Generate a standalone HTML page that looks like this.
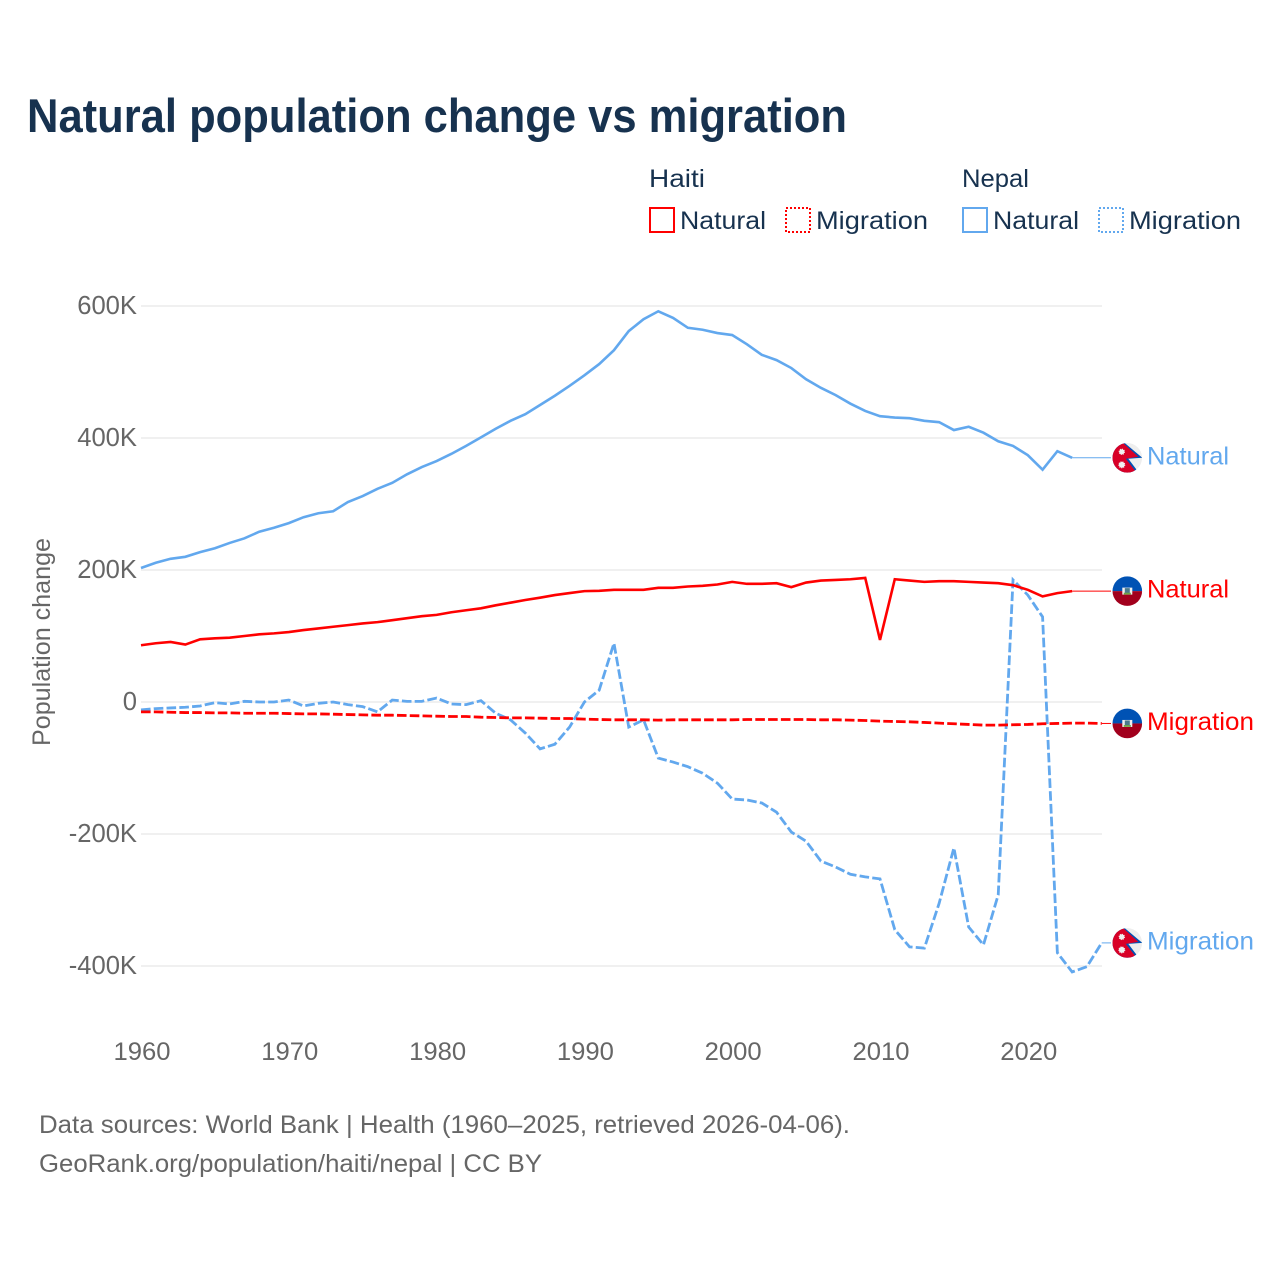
<!DOCTYPE html>
<html lang="en">
<head>
<meta charset="utf-8">
<title>Natural population change vs migration</title>
<style>
html,body{margin:0;padding:0;background:#fff;}
svg{display:block;font-family:"Liberation Sans",sans-serif;}
</style>
</head>
<body>
<svg id="chart" xmlns="http://www.w3.org/2000/svg" width="1280" height="1280" viewBox="0 0 1280 1280">
  <defs>
    <clipPath id="flag-clip"><circle cx="0" cy="0" r="14.8"/></clipPath>
    <g id="flag-haiti" clip-path="url(#flag-clip)">
      <rect x="-15" y="-15" width="30" height="15" fill="#0052b4"/>
      <rect x="-15" y="0" width="30" height="15" fill="#a2001d"/>
      <rect x="-5" y="-3.5" width="10" height="7" fill="#f0f0f0"/>
      <rect x="-2.5" y="-3" width="5" height="5" fill="#4a7a8c"/>
      <rect x="-3.5" y="1.6" width="7" height="1.8" fill="#6da544"/>
    </g>
    <g id="flag-nepal" clip-path="url(#flag-clip)">
      <circle cx="0" cy="0" r="15" fill="#eeeeee"/>
      <polygon points="-15,-16 -4,-16 15,0 1,1 12,15.5 -15,15.5" fill="#0052b4"/>
      <polygon points="-15,-16 -5.500,-16 11,-1 -1.500,1 9,14.500 -15,15.500" fill="#d80027"/>
      <circle cx="-5.5" cy="-6" r="2.600" fill="#f0f0f0" stroke="#f0f0f0" stroke-width="1.200" stroke-dasharray="1 1"/>
      <circle cx="-5.5" cy="7" r="2.900" fill="#f0f0f0" stroke="#f0f0f0" stroke-width="1.200" stroke-dasharray="1 1"/>
    </g>
  </defs>

  <rect x="0" y="0" width="1280" height="1280" fill="#ffffff"/>

  <text x="27" y="132" font-size="47" font-weight="700" fill="#17324f" textLength="820" lengthAdjust="spacingAndGlyphs">Natural population change vs migration</text>

  <g font-size="25" fill="#17324f">
    <text x="649" y="187" textLength="56" lengthAdjust="spacingAndGlyphs">Haiti</text>
    <text x="962" y="187" textLength="67" lengthAdjust="spacingAndGlyphs">Nepal</text>

    <g>
      <rect x="650" y="208" width="24" height="24" fill="none" stroke="#ff0000" stroke-width="2"/>
      <text x="680" y="229" textLength="86" lengthAdjust="spacingAndGlyphs">Natural</text>
    </g>
    <g>
      <rect x="786" y="208" width="24" height="24" fill="none" stroke="#ff0000" stroke-width="2" stroke-dasharray="2 2"/>
      <text x="816" y="229" textLength="112" lengthAdjust="spacingAndGlyphs">Migration</text>
    </g>
    <g>
      <rect x="963" y="208" width="24" height="24" fill="none" stroke="#62a8ee" stroke-width="2"/>
      <text x="993" y="229" textLength="86" lengthAdjust="spacingAndGlyphs">Natural</text>
    </g>
    <g>
      <rect x="1099" y="208" width="24" height="24" fill="none" stroke="#62a8ee" stroke-width="2" stroke-dasharray="2 2"/>
      <text x="1129" y="229" textLength="112" lengthAdjust="spacingAndGlyphs">Migration</text>
    </g>
  </g>

  <g id="grid"></g>
  <g id="y-ticks"></g>
  <g id="x-ticks"></g>
  <text transform="translate(50,642) rotate(-90)" text-anchor="middle" font-size="25" fill="#666666" textLength="208" lengthAdjust="spacingAndGlyphs">Population change</text>

  <g id="series"></g>
  <g id="end-labels"></g>

  <text x="39" y="1133" font-size="25" fill="#666666" textLength="811" lengthAdjust="spacingAndGlyphs">Data sources: World Bank | Health (1960–2025, retrieved 2026-04-06).</text>
  <text x="39" y="1172" font-size="25" fill="#666666" textLength="503" lengthAdjust="spacingAndGlyphs">GeoRank.org/population/haiti/nepal | CC BY</text>
</svg>

<script>
// Values are in thousands; the first entry of each series is for startYear.
const startYear = 1960;
const yTickValues = [600, 400, 200, 0, -200, -400];
const yTickLabels = ['600K', '400K', '200K', '0', '-200K', '-400K'];
const xTickYears = [1960, 1970, 1980, 1990, 2000, 2010, 2020];

const haitiNatural = [86,89,91,87,95,96.5,97.5,100,102.5,104,
  106,109,111.5,114,116.5,119,121,124,127,130,
  132,136,139,142,146.5,150.5,154.5,158,162,165,
  168,168.5,170,170,170,173,173,175,176,178,
  182,179,179,180,174,181,184,185,186,188,
  94,186,184,182,183,183,182,181,180,177,
  170,160,165,168];

const haitiMigration = [-15,-15,-15.5,-16,-16,-16.5,-16.5,-17,-17,-17,
  -17.5,-18,-18,-18.5,-19,-19.5,-20,-20,-20.5,-21,
  -21.5,-22,-22,-23,-23.5,-24,-24,-24.5,-25,-25,
  -26,-26.5,-27,-27,-27,-27.5,-27,-27,-27,-27,
  -27,-26.5,-26.5,-26.5,-26.5,-26.5,-27,-27,-27.5,-28,
  -29,-29.5,-30,-31,-32,-33,-34,-35,-35,-34.5,
  -34,-33,-32.5,-32,-32,-32.5];

const nepalNatural = [203,211,217,220,227,233,241,248,258,264,
  271,280,286,289,303,312,323,332,345,356,
  365,376,388,401,414,426,436,450,464,479,
  495,512,533,562,580,592,582,567,564,559,
  556,542,526,518,506,489,476,465,452,441,
  433,431,430,426,424,412,417,408,395,388,
  374,352,380,370];

const nepalMigration = [-12,-10,-9,-8,-6,-1,-3,1,0,0,
  3,-6,-2,0,-4,-7,-15,3,1,1,
  6,-3,-4,2,-17,-27,-47,-71,-64,-38,
  0,18,89,-38,-27,-85,-91,-98,-108,-123,
  -147,-148.5,-153,-167,-197,-211,-241,-250,-261,-265,
  -268,-345,-371,-373,-305,-221,-341,-368,-292,185,
  162,129,-380,-409,-401,-365];

const SVGNS = 'http://www.w3.org/2000/svg';
const RED = '#ff0000';
const BLUE = '#62a8ee';
const DASH = '9.6 3.2';

function xScale(year) { return 141 + (year - 1960) * 14.78; }
function yScale(value) { return 702 - value * 0.66; }

const gridLayer = document.getElementById('grid');
const yLayer = document.getElementById('y-ticks');
const xLayer = document.getElementById('x-ticks');
const seriesLayer = document.getElementById('series');
const labelLayer = document.getElementById('end-labels');

yTickValues.forEach(function (v, i) {
  const line = document.createElementNS(SVGNS, 'line');
  
  
  line.setAttribute('x1', 141);
  line.setAttribute('x2', 1102);
  line.setAttribute('y1', yScale(v));
  line.setAttribute('y2', yScale(v));
  line.setAttribute('stroke', '#ebebeb');
  line.setAttribute('stroke-width', '1.5');
  gridLayer.appendChild(line);

  const t = document.createElementNS(SVGNS, 'text');
  
  
  t.setAttribute('x', 137);
  t.setAttribute('y', yScale(v) + 8);
  t.setAttribute('text-anchor', 'end');
  t.setAttribute('font-size', '25.6');
  t.setAttribute('fill', '#666666');
  t.textContent = yTickLabels[i];
  yLayer.appendChild(t);
});

xTickYears.forEach(function (year) {
  const t = document.createElementNS(SVGNS, 'text');
  
  
  t.setAttribute('x', xScale(year) + 1);
  t.setAttribute('y', 1060);
  t.setAttribute('text-anchor', 'middle');
  t.setAttribute('font-size', '25');
  t.setAttribute('fill', '#666666');
  t.setAttribute('textLength', '57');
  t.setAttribute('lengthAdjust', 'spacingAndGlyphs');
  t.textContent = String(year);
  xLayer.appendChild(t);
});

function linePath(values) {
  return values.map(function (v, i) {
    return (i ? 'L' : 'M') + xScale(startYear + i).toFixed(2) + ' ' + yScale(v).toFixed(2);
  }).join(' ');
}

function drawSeries(values, color, dashed, name, flagId, label, labelWidth) {
  const path = document.createElementNS(SVGNS, 'path');
  
  
  path.setAttribute('d', linePath(values));
  path.setAttribute('fill', 'none');
  path.setAttribute('stroke', color);
  path.setAttribute('stroke-width', dashed ? '2.8' : '2.6');
  path.setAttribute('stroke-linejoin', 'miter');
  if (dashed) path.setAttribute('stroke-dasharray', DASH);
  seriesLayer.appendChild(path);

  const lastX = xScale(startYear + values.length - 1);
  const lastY = yScale(values[values.length - 1]);

  const conn = document.createElementNS(SVGNS, 'line');
  
  
  conn.setAttribute('x1', lastX);
  conn.setAttribute('x2', 1111);
  conn.setAttribute('y1', lastY);
  conn.setAttribute('y2', lastY);
  conn.setAttribute('stroke', color);
  conn.setAttribute('stroke-width', '1');
  if (dashed) conn.setAttribute('stroke-dasharray', DASH);
  seriesLayer.appendChild(conn);

  const flag = document.createElementNS(SVGNS, 'use');
  
  
  flag.setAttribute('href', '#' + flagId);
  flag.setAttribute('transform', 'translate(1127.3,' + lastY.toFixed(2) + ')');
  labelLayer.appendChild(flag);

  const t = document.createElementNS(SVGNS, 'text');
  
  
  t.setAttribute('x', 1147);
  t.setAttribute('y', lastY + 6.5);
  t.setAttribute('font-size', '25');
  t.setAttribute('fill', color);
  t.setAttribute('textLength', labelWidth);
  t.setAttribute('lengthAdjust', 'spacingAndGlyphs');
  t.textContent = label;
  labelLayer.appendChild(t);
}

drawSeries(nepalMigration, BLUE, true, 'nepal-migration', 'flag-nepal', 'Migration', 107);
drawSeries(nepalNatural, BLUE, false, 'nepal-natural', 'flag-nepal', 'Natural', 82);
drawSeries(haitiMigration, RED, true, 'haiti-migration', 'flag-haiti', 'Migration', 107);
drawSeries(haitiNatural, RED, false, 'haiti-natural', 'flag-haiti', 'Natural', 82);
</script>
</body>
</html>
